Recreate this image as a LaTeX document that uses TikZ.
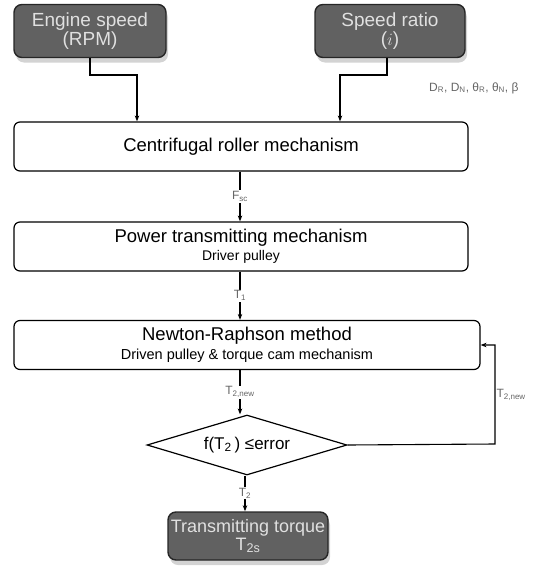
\documentclass[tikz,border=0pt]{standalone}
\usepackage{fontspec}
\setmainfont{Liberation Sans}
\usetikzlibrary{shapes.geometric,arrows.meta,shadows}
\begin{document}
\begin{tikzpicture}[x=1pt,y=-1pt,
  darkbox/.style={draw=black!85, line width=1.4pt, rounded corners=8pt, fill=black!62,
     text=black!12, align=center, font=\fontsize{19}{19}\selectfont, inner sep=0pt,
     drop shadow={opacity=0.35, shadow xshift=2pt, shadow yshift=-5pt}},
  procbox/.style={draw=black, line width=1.2pt, rounded corners=6pt, fill=white,
     align=center, inner sep=0pt, minimum width=454pt, minimum height=49pt},
  maintext/.style={font=\fontsize{18.5}{19}\selectfont},
  lbl/.style={font=\fontsize{12}{13}\selectfont, text=black!60, inner sep=1pt},
  conn/.style={line width=1.1pt, -{Stealth[length=6pt,width=4.5pt]}},
  plain/.style={line width=1.1pt}]
\useasboundingbox (0,0) rectangle (537,573);

\node[darkbox, minimum width=152pt, minimum height=53pt] (eng) at (90,31) {Engine speed\\(RPM)};
\node[darkbox, minimum width=150pt, minimum height=53pt] (sr) at (390,31) {Speed ratio\\($i$)};

\node[procbox, maintext] (crm) at (241,146.5) {Centrifugal roller mechanism};
\node[procbox] (ptm) at (241,246.5) {{\fontsize{18.5}{19}\selectfont Power transmitting mechanism}\\[3pt]{\fontsize{14}{15}\selectfont Driver pulley}};
\node[procbox, minimum width=466pt] (nrm) at (247,345) {{\fontsize{18.5}{19}\selectfont Newton-Raphson method}\\[4pt]{\fontsize{14.5}{15}\selectfont Driven pulley \& torque cam mechanism}};

\node[diamond, draw=black, line width=1.2pt, minimum width=200pt, minimum height=60pt,
      inner sep=0pt, aspect=3.3, font=\fontsize{17}{18}\selectfont] (dec) at (247,445)
      {f(T\textsubscript{2}\,) ≤error};

\node[darkbox, minimum width=160pt, minimum height=48pt, font=\fontsize{18}{18}\selectfont] (out) at (248,536) {Transmitting torque\\T\textsubscript{2s}};

\coordinate (e1) at (90,75);
\coordinate (e2) at (137,75);
\coordinate (s1) at (387,75);
\coordinate (s2) at (340,75);
\draw[conn] (eng.south -| e1) -- (e1) -- (e2) -- (e2 |- crm.north);
\draw[conn] (sr.south -| s1) -- (s1) -- (s2) -- (s2 |- crm.north);
\node[lbl, anchor=west] (dl) at (428,88) {D\textsubscript{R}, D\textsubscript{N}, θ\textsubscript{R}, θ\textsubscript{N}, β};

\draw[conn] (crm.south -| 240,0) -- node[lbl, fill=white] (fl) {F\textsubscript{sc}} (ptm.north -| 240,0);
\draw[conn] (ptm.south -| 240,0) -- node[lbl, fill=white] (t1) {T\textsubscript{1}} (nrm.north -| 240,0);
\draw[conn] (nrm.south -| 240,0) -- node[lbl, fill=white] (t2n) {T\textsubscript{2,new}} (dec.north -| 240,0);
\draw[conn] (dec.south -| 245,0) -- node[lbl, fill=white] (t2) {T\textsubscript{2}} (out.north -| 245,0);

\coordinate (fb1) at (495,444);
\coordinate (fb2) at (495,345);
\draw[conn] (dec.east) -- (fb1) -- node[lbl, anchor=west, pos=0.5] (t2b) {T\textsubscript{2,new}} (fb2) -- (nrm.east);
\end{tikzpicture}
\end{document}
